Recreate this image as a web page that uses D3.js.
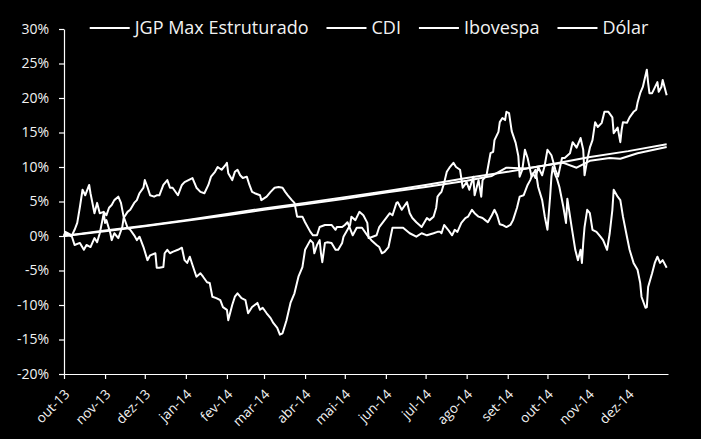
<!DOCTYPE html>
<html><head><meta charset="utf-8">
<script src="https://cdn.jsdelivr.net/npm/d3@7/dist/d3.min.js"></script>
<style>
html,body{margin:0;padding:0;background:#000;}
svg{display:block;}
</style></head>
<body>
<svg id="chart" width="701" height="439"></svg>
<script>
const seriesNames = ["JGP Max Estruturado", "CDI", "Ibovespa", "Dólar"];
const xTickDates = ["2013-10-01","2013-11-01","2013-12-01","2014-01-01","2014-02-01","2014-03-01","2014-04-01","2014-05-01","2014-06-01","2014-07-01","2014-08-01","2014-09-01","2014-10-01","2014-11-01","2014-12-01"];
const xTickLabels = ["out-13","nov-13","dez-13","jan-14","fev-14","mar-14","abr-14","mai-14","jun-14","jul-14","ago-14","set-14","out-14","nov-14","dez-14"];
const yTicks = [-20,-15,-10,-5,0,5,10,15,20,25,30];

const jgp = [
["2013-10-01",0],["2013-11-01",0.7],["2013-12-01",1.4],["2014-01-01",2.2],["2014-02-01",3.0],["2014-03-01",3.8],
["2014-04-01",4.6],["2014-05-01",5.4],["2014-06-01",6.3],["2014-07-01",7.1],["2014-08-01",8.0],["2014-08-20",8.7],
["2014-08-31",9.9],["2014-09-15",9.8],["2014-10-01",10.3],["2014-10-13",10.6],["2014-10-23",9.9],["2014-11-02",10.9],
["2014-11-17",11.3],["2014-11-25",11.2],["2014-12-08",12.0],["2014-12-30",12.9]];

const cdi = [
["2013-10-01",0],["2013-11-01",0.8],["2013-12-01",1.5],["2014-01-01",2.3],["2014-02-01",3.2],["2014-03-01",4.0],
["2014-04-01",4.8],["2014-05-01",5.6],["2014-06-01",6.5],["2014-07-01",7.4],["2014-08-01",8.4],["2014-09-01",9.3],
["2014-10-01",10.3],["2014-11-01",11.4],["2014-12-01",12.3],["2014-12-30",13.3]];

const ibovespa = [
["2013-10-01",0.0],["2013-10-02",0.6],["2013-10-07",0.1],["2013-10-09",0.9],["2013-10-11",1.9],["2013-10-13",4.2],
["2013-10-15",6.7],["2013-10-17",5.9],["2013-10-20",7.4],["2013-10-21",6.2],["2013-10-24",3.3],["2013-10-26",4.8],
["2013-10-28",3.3],["2013-10-31",3.5],["2013-11-02",3.0],["2013-11-04",4.1],["2013-11-06",4.5],["2013-11-08",5.2],
["2013-11-11",5.7],["2013-11-13",4.8],["2013-11-15",2.8],["2013-11-18",1.2],["2013-11-20",0.9],["2013-11-23",0.1],
["2013-11-25",-0.6],["2013-11-27",-0.1],["2013-11-30",-1.6],["2013-12-03",-3.5],["2013-12-05",-2.8],["2013-12-09",-2.5],
["2013-12-10",-4.6],["2013-12-12",-4.6],["2013-12-15",-4.5],["2013-12-16",-2.5],["2013-12-18",-2.0],["2013-12-20",-2.5],
["2013-12-22",-2.3],["2013-12-26",-2.0],["2013-12-29",-1.7],["2013-12-31",-3.5],["2014-01-02",-3.9],["2014-01-04",-3.0],
["2014-01-06",-4.2],["2014-01-09",-5.9],["2014-01-12",-5.4],["2014-01-14",-5.9],["2014-01-17",-6.7],["2014-01-19",-6.8],
["2014-01-21",-8.8],["2014-01-24",-9.0],["2014-01-27",-9.3],["2014-01-29",-10.3],["2014-02-01",-10.7],["2014-02-02",-12.2],
["2014-02-05",-10.0],["2014-02-07",-8.8],["2014-02-09",-8.3],["2014-02-12",-9.0],["2014-02-15",-9.3],["2014-02-17",-11.2],
["2014-02-20",-10.3],["2014-02-22",-10.0],["2014-02-24",-9.7],["2014-02-26",-10.7],["2014-02-28",-10.4],["2014-03-03",-11.2],
["2014-03-06",-11.9],["2014-03-08",-12.6],["2014-03-11",-13.3],["2014-03-13",-14.3],["2014-03-15",-14.1],["2014-03-18",-12.2],
["2014-03-21",-9.7],["2014-03-24",-8.3],["2014-03-27",-5.9],["2014-03-30",-4.5],["2014-04-01",-2.0],["2014-04-05",-0.6],
["2014-04-07",-1.0],["2014-04-08",-2.5],["2014-04-10",-1.3],["2014-04-12",-0.6],["2014-04-13",-2.5],["2014-04-14",-3.8],
["2014-04-16",-1.0],["2014-04-18",-0.9],["2014-04-21",-1.0],["2014-04-24",-2.0],["2014-04-26",-2.0],["2014-04-29",-1.0],
["2014-04-30",-0.1],["2014-05-03",0.9],["2014-05-05",1.6],["2014-05-06",2.8],["2014-05-09",2.3],["2014-05-12",3.5],
["2014-05-15",3.0],["2014-05-18",1.9],["2014-05-19",-0.3],["2014-05-22",-0.1],["2014-05-25",0.1],["2014-05-27",1.3],
["2014-05-31",2.3],["2014-06-04",3.3],["2014-06-06",3.0],["2014-06-09",4.8],["2014-06-10",4.9],["2014-06-13",3.8],
["2014-06-17",4.9],["2014-06-19",3.3],["2014-06-21",2.6],["2014-06-24",2.0],["2014-06-28",1.3],["2014-07-02",2.6],
["2014-07-04",2.3],["2014-07-07",2.8],["2014-07-09",4.1],["2014-07-10",5.7],["2014-07-12",6.2],["2014-07-13",6.4],
["2014-07-15",7.7],["2014-07-17",9.3],["2014-07-19",9.9],["2014-07-22",10.6],["2014-07-24",10.0],["2014-07-27",9.6],
["2014-07-29",7.0],["2014-08-01",7.8],["2014-08-03",6.7],["2014-08-06",8.6],["2014-08-07",5.9],["2014-08-10",8.1],
["2014-08-12",5.7],["2014-08-13",8.1],["2014-08-16",8.8],["2014-08-19",12.0],["2014-08-21",12.2],["2014-08-22",13.9],
["2014-08-25",15.1],["2014-08-26",16.5],["2014-08-28",17.1],["2014-08-30",16.8],["2014-08-31",18.0],["2014-09-02",17.8],
["2014-09-04",15.2],["2014-09-07",13.5],["2014-09-09",11.6],["2014-09-10",8.6],["2014-09-12",9.6],["2014-09-14",12.5],
["2014-09-16",11.3],["2014-09-19",8.6],["2014-09-22",9.6],["2014-09-24",7.1],["2014-09-27",5.2],["2014-09-29",2.8],
["2014-10-01",0.9],["2014-10-02",3.3],["2014-10-03",5.7],["2014-10-04",8.6],["2014-10-05",10.0],["2014-10-07",8.8],
["2014-10-08",8.4],["2014-10-10",7.1],["2014-10-13",4.2],["2014-10-15",1.9],["2014-10-16",5.4],["2014-10-19",1.6],
["2014-10-22",-2.0],["2014-10-24",-3.5],["2014-10-26",-2.0],["2014-10-27",-3.9],["2014-10-28",-1.0],["2014-10-29",1.3],
["2014-10-31",3.8],["2014-11-02",3.3],["2014-11-04",0.9],["2014-11-07",0.6],["2014-11-10",-0.1],["2014-11-12",-0.6],
["2014-11-15",-2.0],["2014-11-17",0.4],["2014-11-19",3.8],["2014-11-20",6.7],["2014-11-23",5.7],["2014-11-25",5.2],
["2014-11-27",2.8],["2014-11-30",-0.1],["2014-12-02",-2.0],["2014-12-05",-3.9],["2014-12-08",-4.9],["2014-12-10",-6.8],
["2014-12-11",-8.8],["2014-12-14",-10.4],["2014-12-15",-10.3],["2014-12-16",-7.4],["2014-12-19",-5.4],["2014-12-21",-3.9],
["2014-12-23",-3.0],["2014-12-25",-3.9],["2014-12-27",-3.5],["2014-12-30",-4.6]];

const dolar = [
["2013-10-01",0.0],["2013-10-02",0.4],["2013-10-07",-0.1],["2013-10-09",-1.3],["2013-10-13",-1.0],["2013-10-16",-2.0],
["2013-10-18",-1.3],["2013-10-21",-1.6],["2013-10-24",-0.3],["2013-10-26",-0.9],["2013-10-28",0.4],["2013-10-30",2.3],
["2013-10-31",3.3],["2013-11-01",1.9],["2013-11-02",2.3],["2013-11-05",0.4],["2013-11-06",-0.6],["2013-11-08",0.4],
["2013-11-11",-0.3],["2013-11-14",1.3],["2013-11-15",2.6],["2013-11-18",3.5],["2013-11-20",3.8],["2013-11-23",4.8],
["2013-11-25",5.2],["2013-11-27",6.2],["2013-11-30",7.0],["2013-12-01",8.1],["2013-12-03",7.1],["2013-12-05",5.9],
["2013-12-08",5.7],["2013-12-10",5.9],["2013-12-12",5.9],["2013-12-15",7.4],["2013-12-18",8.1],["2013-12-20",7.0],
["2013-12-22",7.0],["2013-12-26",5.9],["2013-12-29",7.4],["2013-12-31",7.8],["2014-01-03",8.1],["2014-01-06",8.4],
["2014-01-09",7.0],["2014-01-12",6.4],["2014-01-15",6.2],["2014-01-18",7.4],["2014-01-20",8.6],["2014-01-23",9.3],
["2014-01-25",10.0],["2014-01-28",9.6],["2014-01-31",10.3],["2014-02-01",10.6],["2014-02-02",9.1],["2014-02-05",8.1],
["2014-02-07",9.3],["2014-02-09",9.6],["2014-02-11",8.8],["2014-02-13",8.4],["2014-02-16",8.6],["2014-02-18",7.4],
["2014-02-20",6.4],["2014-02-22",6.2],["2014-02-26",5.9],["2014-02-27",5.2],["2014-03-03",5.7],["2014-03-06",6.4],
["2014-03-09",7.0],["2014-03-12",7.1],["2014-03-15",7.0],["2014-03-17",6.4],["2014-03-19",5.9],["2014-03-22",5.2],
["2014-03-24",4.8],["2014-03-26",2.8],["2014-03-30",2.8],["2014-04-01",2.0],["2014-04-05",0.6],["2014-04-07",0.1],
["2014-04-10",0.1],["2014-04-12",1.3],["2014-04-16",1.6],["2014-04-21",1.6],["2014-04-24",0.9],["2014-04-25",1.3],
["2014-04-29",1.3],["2014-05-01",1.6],["2014-05-03",2.0],["2014-05-07",0.1],["2014-05-10",1.2],["2014-05-14",1.2],
["2014-05-18",0.1],["2014-05-21",-0.6],["2014-05-25",-1.3],["2014-05-27",-1.6],["2014-05-29",-2.5],["2014-05-31",-2.3],
["2014-06-03",-1.6],["2014-06-06",1.2],["2014-06-09",1.2],["2014-06-14",1.2],["2014-06-19",0.4],["2014-06-24",-0.1],
["2014-06-28",0.4],["2014-07-02",0.1],["2014-07-07",0.4],["2014-07-10",0.6],["2014-07-12",0.6],["2014-07-13",0.4],
["2014-07-15",1.6],["2014-07-18",0.9],["2014-07-21",0.1],["2014-07-23",0.9],["2014-07-25",0.6],["2014-07-28",1.9],
["2014-07-31",2.6],["2014-08-02",2.8],["2014-08-05",3.8],["2014-08-07",3.3],["2014-08-10",2.8],["2014-08-13",2.6],
["2014-08-15",2.3],["2014-08-17",2.0],["2014-08-20",3.0],["2014-08-22",3.8],["2014-08-24",3.0],["2014-08-26",1.7],
["2014-08-28",1.6],["2014-08-31",1.3],["2014-09-03",1.6],["2014-09-05",2.3],["2014-09-08",4.1],["2014-09-10",5.7],
["2014-09-13",5.9],["2014-09-16",7.4],["2014-09-18",8.1],["2014-09-20",9.1],["2014-09-22",8.4],["2014-09-24",10.0],
["2014-09-27",8.8],["2014-09-29",10.3],["2014-10-01",12.5],["2014-10-04",11.7],["2014-10-07",9.6],["2014-10-09",8.6],
["2014-10-12",11.3],["2014-10-14",11.3],["2014-10-18",12.0],["2014-10-20",13.6],["2014-10-23",12.8],["2014-10-26",14.2],
["2014-10-28",12.5],["2014-10-29",8.8],["2014-10-31",11.0],["2014-11-02",12.8],["2014-11-04",13.9],["2014-11-06",16.5],
["2014-11-08",15.8],["2014-11-11",16.4],["2014-11-13",18.0],["2014-11-16",18.0],["2014-11-19",17.2],["2014-11-20",14.9],
["2014-11-23",15.7],["2014-11-25",13.6],["2014-11-26",15.4],["2014-11-27",16.5],["2014-11-30",16.4],["2014-12-02",17.2],
["2014-12-05",18.0],["2014-12-07",18.3],["2014-12-08",19.3],["2014-12-10",20.7],["2014-12-12",21.6],["2014-12-15",24.1],
["2014-12-16",22.2],["2014-12-17",20.7],["2014-12-19",20.7],["2014-12-23",22.3],["2014-12-24",20.9],["2014-12-26",21.6],
["2014-12-27",22.6],["2014-12-30",20.4]];

const parse = d3.timeParse("%Y-%m-%d");
const allSeries = [jgp, cdi, ibovespa, dolar].map(s => s.map(([d, v]) => ({date: parse(d), value: v})));

const svg = d3.select("#chart");
svg.append("rect").attr("width", 701).attr("height", 439).attr("fill", "#000");

const fontFam = "'Open Sans', Lato, sans-serif";
const txtColor = "#f2f2f2";

const x = d3.scaleTime().domain([parse("2013-10-01"), parse("2014-12-31")]).range([64, 668]);
const y = d3.scaleLinear().domain([-20, 30]).range([374, 29]);

// Y axis
const yAxis = svg.append("g").attr("transform", "translate(64,0)")
  .call(d3.axisLeft(y).tickValues(yTicks).tickFormat(d => d + "%").tickSize(5).tickSizeOuter(0).tickPadding(10));
yAxis.select(".domain").attr("stroke", "#fff").attr("stroke-width", 1.2);
yAxis.selectAll(".tick line").attr("stroke", "#fff").attr("stroke-width", 1.2);
yAxis.selectAll(".tick text").attr("fill", txtColor).style("font-family", fontFam).style("font-size", "14px");

// X axis
const xAxis = svg.append("g").attr("transform", "translate(0,374)")
  .call(d3.axisBottom(x).tickValues(xTickDates.map(parse)).tickFormat((d, i) => xTickLabels[i]).tickSize(5).tickSizeOuter(0));
xAxis.select(".domain").attr("stroke", "#fff").attr("stroke-width", 1.2);
xAxis.selectAll(".tick line").attr("stroke", "#fff").attr("stroke-width", 1.2);
xAxis.selectAll(".tick text")
  .attr("fill", txtColor).style("font-family", fontFam).style("font-size", "13.5px")
  .attr("text-anchor", "end").attr("dy", null).attr("y", 0)
  .attr("transform", "translate(6,21) rotate(-45)");

// Lines
const line = d3.line().x(d => x(d.date)).y(d => y(d.value)).curve(d3.curveLinear);
svg.append("g").selectAll("path").data(allSeries).join("path")
  .attr("d", line).attr("fill", "none").attr("stroke", "#fff").attr("stroke-width", 2)
  .attr("stroke-linejoin", "round");

// Legend
const leg = svg.append("g");
let lx = 0;
seriesNames.forEach((name, i) => {
  const g = leg.append("g").attr("transform", `translate(${lx},0)`);
  g.append("line").attr("x1", 0).attr("x2", 40).attr("y1", 28).attr("y2", 28).attr("stroke", "#fff").attr("stroke-width", 2);
  const t = g.append("text").attr("x", 45).attr("y", 34).text(name)
    .attr("fill", txtColor).style("font-family", fontFam).style("font-size", "18px");
  const w = t.node().getComputedTextLength();
  lx += 45 + w + 18;
});
const totalW = lx - 18;
leg.attr("transform", `translate(${369 - totalW / 2},0)`);
</script>
</body></html>
